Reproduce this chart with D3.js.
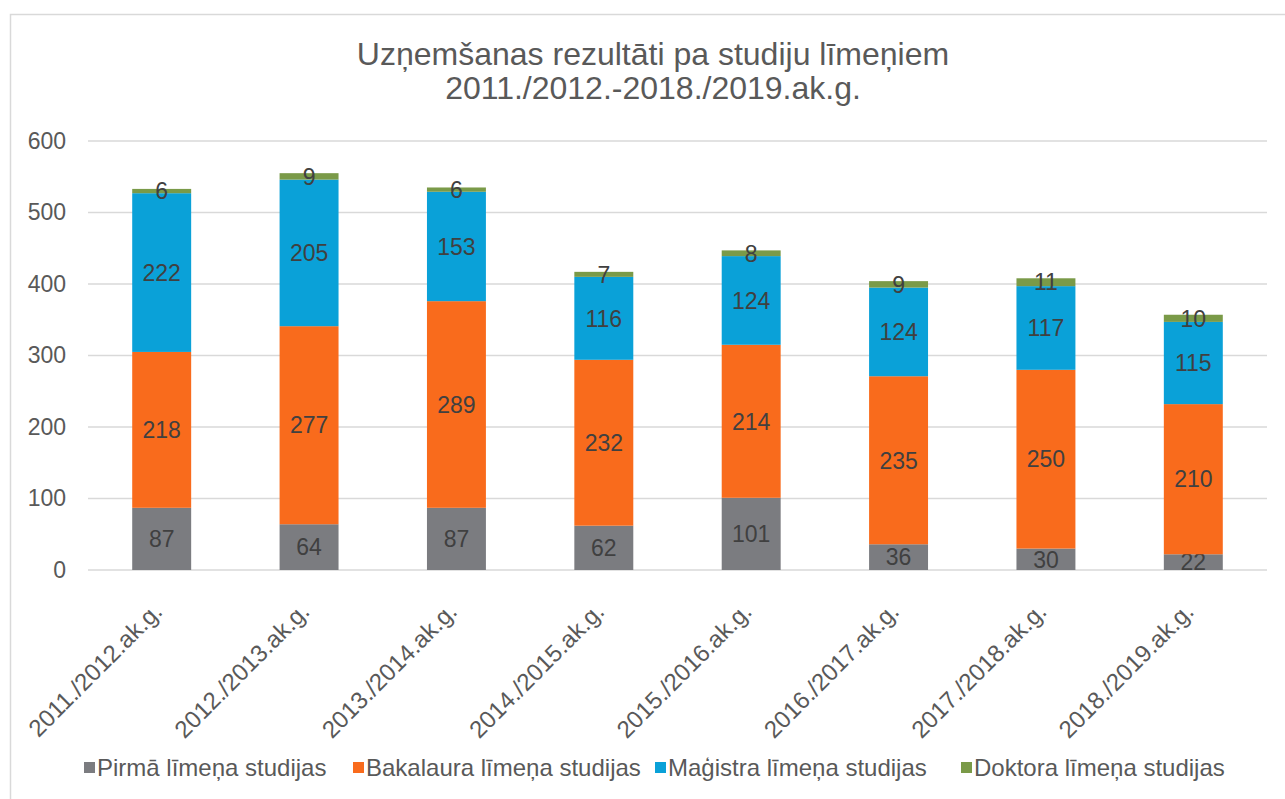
<!DOCTYPE html>
<html>
<head>
<meta charset="utf-8">
<script src="https://cdn.jsdelivr.net/npm/d3@7"></script>
<style>
  body { margin: 0; background: #fff; }
  text { font-family: "Liberation Sans", Arial, sans-serif; }
</style>
</head>
<body>
<div id="chart"></div>
<script>
var years = ["2011./2012.ak.g.", "2012./2013.ak.g.", "2013./2014.ak.g.", "2014./2015.ak.g.",
             "2015./2016.ak.g.", "2016./2017.ak.g.", "2017./2018.ak.g.", "2018./2019.ak.g."];
var seriesNames = ["Pirmā līmeņa studijas", "Bakalaura līmeņa studijas", "Maģistra līmeņa studijas", "Doktora līmeņa studijas"];
var colors = ["#7b7c80", "#f96b1c", "#0aa1d8", "#7a9a48"];
var pirma = [87, 64, 87, 62, 101, 36, 30, 22];
var bakalaurs = [218, 277, 289, 232, 214, 235, 250, 210];
var magistrs = [222, 205, 153, 116, 124, 124, 117, 115];
var doktors = [6, 9, 6, 7, 8, 9, 11, 10];
var yTicks = [0, 100, 200, 300, 400, 500, 600];

var W = 1285, H = 799;
var margin = {top: 141, left: 88, right: 18, bottom: 229};
var width = W - margin.left - margin.right,
    height = H - margin.top - margin.bottom;

var rows = years.map(function(y, i) {
  return {year: y, s0: pirma[i], s1: bakalaurs[i], s2: magistrs[i], s3: doktors[i]};
});
var keys = ["s0", "s1", "s2", "s3"];
var stacked = d3.stack().keys(keys)(rows);

var svg = d3.select("#chart").append("svg")
    .attr("width", W)
    .attr("height", H);

// chart frame
svg.append("rect")
    .attr("x", 10.5).attr("y", 14.5)
    .attr("width", W + 20).attr("height", H + 20)
    .attr("fill", "none")
    .attr("stroke", "#d9d9d9")
    .attr("stroke-width", 1.5);

svg.append("text")
    .attr("x", 653).attr("y", 65)
    .attr("text-anchor", "middle")
    .attr("font-size", "32px")
    .attr("fill", "#595959")
    .text("Uzņemšanas rezultāti pa studiju līmeņiem");
svg.append("text")
    .attr("x", 653).attr("y", 99)
    .attr("text-anchor", "middle")
    .attr("font-size", "32px")
    .attr("fill", "#595959")
    .text("2011./2012.-2018./2019.ak.g.");

var g = svg.append("g")
    .attr("transform", "translate(" + margin.left + "," + margin.top + ")");

var x = d3.scaleBand().domain(years).range([0, width]).padding(0);
var y = d3.scaleLinear().domain([0, 600]).range([height, 0]);
var barW = x.bandwidth() * 0.4;

// gridlines
g.selectAll(".grid")
  .data(yTicks)
  .enter().append("line")
    .attr("x1", 0).attr("x2", width)
    .attr("y1", function(d) { return y(d); })
    .attr("y2", function(d) { return y(d); })
    .attr("stroke", "#d9d9d9")
    .attr("stroke-width", 1.5);

// y axis labels
var yAxis = d3.axisLeft(y).tickValues(yTicks).tickSize(0).tickPadding(22);
g.append("g")
    .call(yAxis)
    .call(function(s) { s.select(".domain").remove(); })
    .selectAll("text")
      .attr("font-size", "23px")
      .attr("fill", "#595959")
      .attr("font-family", "Liberation Sans, Arial, sans-serif");

// bars
var layers = g.selectAll(".layer")
  .data(stacked)
  .enter().append("g")
    .attr("fill", function(d, i) { return colors[i]; });

layers.selectAll("rect")
  .data(function(d) { return d; })
  .enter().append("rect")
    .attr("x", function(d) { return x(d.data.year) + (x.bandwidth() - barW) / 2; })
    .attr("width", barW)
    .attr("y", function(d) { return y(d[1]); })
    .attr("height", function(d) { return y(d[0]) - y(d[1]); });

// data labels
layers.selectAll("text")
  .data(function(d) { return d; })
  .enter().append("text")
    .attr("x", function(d) { return x(d.data.year) + x.bandwidth() / 2; })
    .attr("y", function(d) { return (y(d[0]) + y(d[1])) / 2; })
    .attr("dy", "0.36em")
    .attr("text-anchor", "middle")
    .attr("font-size", "23px")
    .attr("fill", "#404040")
    .text(function(d) { return d[1] - d[0]; });

// x axis labels
var xAxis = d3.axisBottom(x).tickSize(0).tickPadding(0);
g.append("g")
    .attr("transform", "translate(0," + height + ")")
    .call(xAxis)
    .call(function(s) { s.select(".domain").remove(); })
    .selectAll("text")
      .attr("font-size", "24px")
      .attr("fill", "#595959")
      .attr("font-family", "Liberation Sans, Arial, sans-serif")
      .attr("text-anchor", "end")
      .attr("dy", "0.35em")
      .attr("transform", "translate(-4,37) rotate(-45)");

// legend
var legendX = [84, 353, 655, 961];
var legend = svg.append("g").selectAll("g")
  .data(seriesNames)
  .enter().append("g")
    .attr("transform", function(d, i) { return "translate(" + legendX[i] + ",762)"; });
legend.append("rect")
    .attr("width", 11).attr("height", 11)
    .attr("fill", function(d, i) { return colors[i]; });
legend.append("text")
    .attr("x", 13).attr("y", 14)
    .attr("font-size", "24px")
    .attr("fill", "#595959")
    .text(function(d) { return d; });
</script>
</body>
</html>
